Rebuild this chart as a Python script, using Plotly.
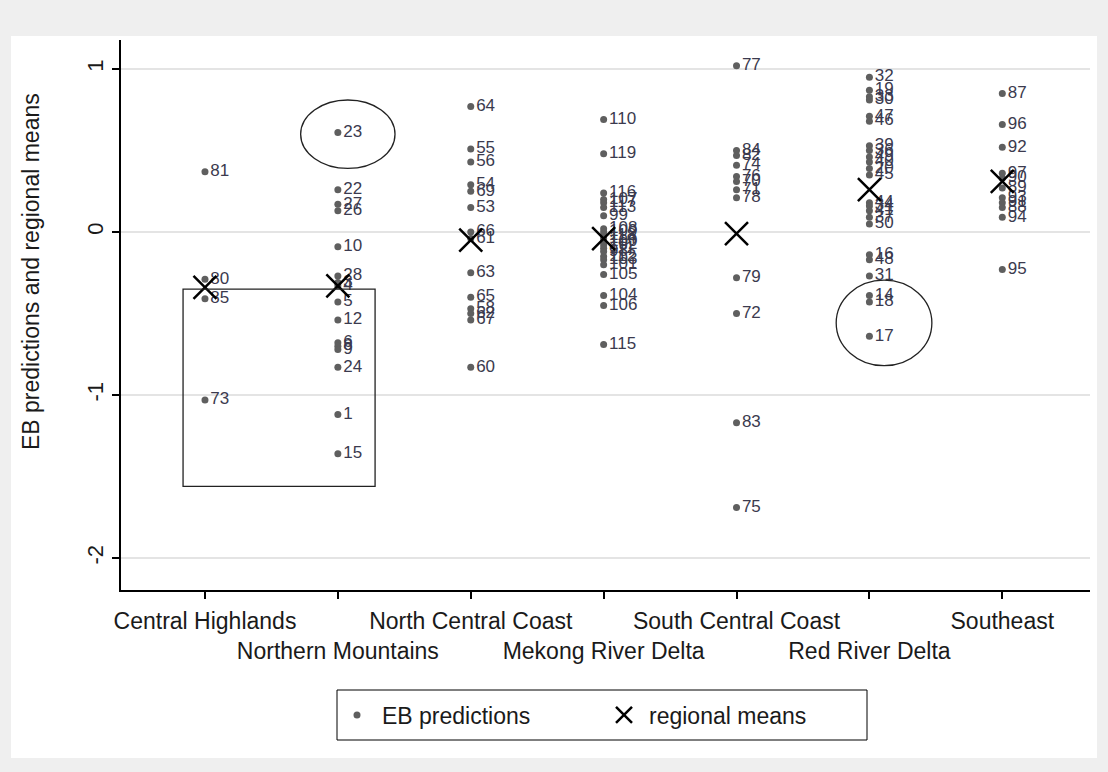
import plotly.graph_objects as go

# ---- data ----
regions = ["Central Highlands", "Northern Mountains", "North Central Coast",
           "Mekong River Delta", "South Central Coast", "Red River Delta", "Southeast"]

ch_ids = [81, 80, 85, 73]
ch_vals = [0.37, -0.29, -0.41, -1.03]

nm_ids = [23, 22, 27, 26, 10, 28, 3, 4, 5, 12, 6, 8, 9, 24, 1, 15]
nm_vals = [0.61, 0.26, 0.17, 0.13, -0.09, -0.27, -0.31, -0.33, -0.43, -0.54,
           -0.68, -0.70, -0.72, -0.83, -1.12, -1.36]

ncc_ids = [64, 55, 56, 54, 69, 53, 66, 61, 63, 65, 58, 62, 67, 60]
ncc_vals = [0.77, 0.51, 0.43, 0.29, 0.25, 0.15, 0.00, -0.04, -0.25, -0.40,
            -0.47, -0.50, -0.54, -0.83]

mrd_ids = [110, 119, 116, 107, 117, 113, 99, 108, 109, 118, 114, 100, 102, 111,
           98, 112, 103, 101, 105, 104, 106, 115]
mrd_vals = [0.69, 0.48, 0.24, 0.20, 0.18, 0.15, 0.10, 0.02, 0.00, -0.02, -0.04,
            -0.06, -0.08, -0.10, -0.12, -0.15, -0.17, -0.20, -0.26, -0.39, -0.45, -0.69]

scc_ids = [77, 84, 82, 74, 76, 70, 71, 78, 79, 72, 83, 75]
scc_vals = [1.02, 0.50, 0.47, 0.41, 0.34, 0.31, 0.26, 0.21, -0.28, -0.50, -1.17, -1.69]

rrd_ids = [32, 19, 33, 30, 47, 46, 39, 36, 49, 40, 20, 45, 44, 34, 41, 37, 50,
           16, 48, 31, 14, 18, 17]
rrd_vals = [0.95, 0.87, 0.83, 0.81, 0.71, 0.68, 0.53, 0.50, 0.46, 0.43, 0.39, 0.35,
            0.18, 0.16, 0.13, 0.09, 0.05, -0.14, -0.17, -0.27, -0.39, -0.43, -0.64]

se_ids = [87, 96, 92, 97, 90, 89, 93, 91, 88, 94, 95]
se_vals = [0.85, 0.66, 0.52, 0.36, 0.33, 0.27, 0.21, 0.18, 0.15, 0.09, -0.23]

regional_means = [-0.34, -0.33, -0.05, -0.04, -0.01, 0.26, 0.31]

y_ticks = [-2, -1, 0, 1]
y_title = "EB predictions and regional means"
legend_labels = ["EB predictions", "regional means"]

# ---- build ----
groups = [(ch_ids, ch_vals), (nm_ids, nm_vals), (ncc_ids, ncc_vals), (mrd_ids, mrd_vals),
          (scc_ids, scc_vals), (rrd_ids, rrd_vals), (se_ids, se_vals)]
px, py, pt = [], [], []
for i, (ids, vals) in enumerate(groups):
    for k, v in zip(ids, vals):
        px.append(i + 1)
        py.append(v)
        pt.append(str(k))

FONT = "Liberation Sans, Arial, sans-serif"
NARROW = "Liberation Sans Narrow, Arial Narrow, Liberation Sans, sans-serif"

fig = go.Figure()
fig.add_trace(go.Scatter(
    x=px, y=py, text=pt, mode="markers+text", name=legend_labels[0],
    textposition="middle right",
    textfont=dict(family=NARROW, size=17, color="#3b3a4e"),
    marker=dict(size=7, color="#5f5f5f", symbol="circle"),
    cliponaxis=False,
))
fig.add_trace(go.Scatter(
    x=list(range(1, len(regions) + 1)), y=regional_means, mode="markers",
    name=legend_labels[1],
    marker=dict(symbol="x-thin", size=23, line=dict(width=2.5, color="black"), color="black"),
))

ticktext = [r if i % 2 == 0 else "<br>" + r for i, r in enumerate(regions)]

W, H = 1108, 772
L, R, T, B = 121, 18, 40, 182
pw, ph = W - L - R, H - T - B

def pxx(v):
    return (v - L) / pw

def pyy(v):
    return (H - B - v) / ph

fig.update_layout(
    width=W, height=H,
    margin=dict(l=L, r=R, t=T, b=B),
    paper_bgcolor="#efefef",
    plot_bgcolor="white",
    font=dict(family=FONT, color="#1a1a1a"),
    showlegend=True,
    legend=dict(
        orientation="h", x=pxx(599), xanchor="center", y=pyy(715), yanchor="middle",
        bgcolor="rgba(0,0,0,0)", borderwidth=0,
        font=dict(size=23, family=FONT, color="#1a1a1a"),
        itemwidth=40, entrywidth=212,
    ),
    xaxis=dict(
        range=[0.368, 7.66], tickmode="array",
        tickvals=list(range(1, len(regions) + 1)), ticktext=ticktext,
        tickangle=0, ticklabelstandoff=3,
        showgrid=False, zeroline=False,
        showline=True, linecolor="black", linewidth=1.5,
        ticks="outside", ticklen=7, tickcolor="black", tickwidth=1.5,
        tickfont=dict(size=23, family=FONT, color="#1a1a1a"),
    ),
    yaxis=dict(
        range=[-2.196, 1.178], tickmode="array", tickvals=y_ticks,
        ticktext=[str(t) for t in y_ticks],
        tickangle=-90,
        showgrid=True, gridcolor="#e4e4e4", gridwidth=2,
        zeroline=True, zerolinecolor="#e4e4e4", zerolinewidth=2,
        showline=True, linecolor="black", linewidth=1.5,
        ticks="outside", ticklen=7, tickcolor="black", tickwidth=1.5,
        tickfont=dict(size=22, family=FONT, color="#1a1a1a"),
    ),
    annotations=[dict(
        text=y_title, xref="paper", yref="paper", x=pxx(31), y=pyy(272),
        textangle=-90, showarrow=False, font=dict(size=23, family=FONT, color="#1a1a1a"),
        xanchor="center", yanchor="middle",
    )],
    shapes=[
        # white graph region
        dict(type="rect", xref="paper", yref="paper", layer="below",
             x0=pxx(11), x1=pxx(1097), y0=pyy(758), y1=pyy(36),
             fillcolor="white", line=dict(width=0)),
        # legend frame
        dict(type="rect", xref="paper", yref="paper", layer="below",
             x0=pxx(337), x1=pxx(867), y0=pyy(740), y1=pyy(690),
             fillcolor="white", line=dict(color="black", width=1)),
        # highlight box
        dict(type="rect", xref="x", yref="y", x0=0.835, x1=2.28, y0=-1.56, y1=-0.35,
             line=dict(color="#222222", width=1.3)),
        # ellipses
        dict(type="circle", xref="x", yref="y", x0=1.72, x1=2.43, y0=0.39, y1=0.81,
             line=dict(color="#222222", width=1.3)),
        dict(type="circle", xref="x", yref="y", x0=5.75, x1=6.47, y0=-0.82, y1=-0.295,
             line=dict(color="#222222", width=1.3)),
    ],
)

fig.write_html("out.html", config={"displayModeBar": False},
               post_script="document.body.style.margin='0';")
